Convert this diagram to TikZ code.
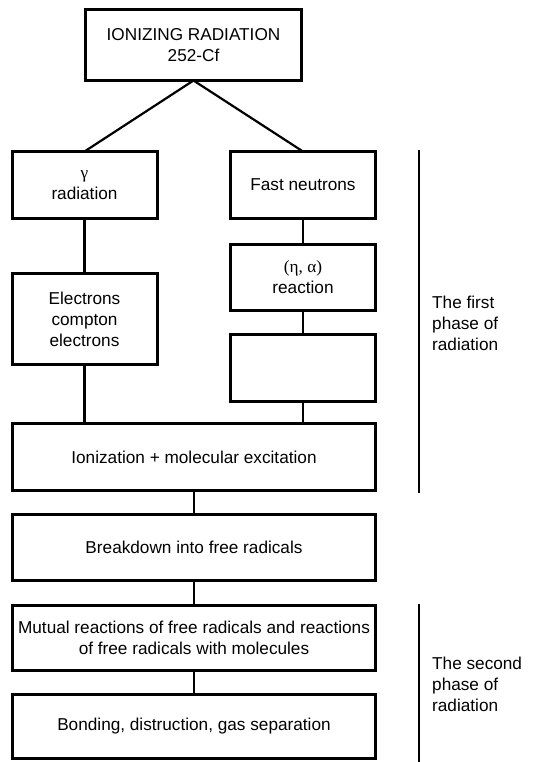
\documentclass[tikz,border=0pt]{standalone}
\usepackage{fontspec}
\setmainfont{Liberation Sans}
\newfontfamily\grk{Liberation Serif}
\usetikzlibrary{positioning, calc}

\begin{document}
\begin{tikzpicture}[
  x=1pt, y=-1pt,
  every node/.style={font=\fontsize{17.2}{21}\selectfont, align=center},
  box/.style={draw, line width=3pt, inner sep=2pt, outer sep=0pt,
              minimum width=145pt, minimum height=#1},
  box/.default=67pt,
  widebox/.style={box=#1, minimum width=363pt},
  widebox/.default=66pt,
  wire/.style={line width=2.6pt},
  slant/.style={line width=2.2pt},
  phase/.style={line width=2.2pt},
  note/.style={anchor=west, align=left, inner sep=0pt}
]
\useasboundingbox (0,0) rectangle (559,762);

% source
\node[box=71pt, minimum width=216pt] (src) at (193.5,45)
  {IONIZING RADIATION\\252-Cf};

% left branch
\node[box] (gam) at (84.5,185) {{\grk γ}\\radiation};
\node[box=91pt] (elec) at (84.5,319) {Electrons\\compton\\electrons};

% right branch
\node[box] (fast) at (303,185) {Fast neutrons};
\node[box=66pt] (na) at (303,277.5) {{\grk (η, α)}\\reaction};
\node[box] (blank) at (303,368) {};

% common chain
\node[widebox=67pt] (ion)   at (194,457)   {Ionization + molecular excitation};
\node[widebox]      (brk)   at (194,547.5) {Breakdown into free radicals};
\node[widebox=65pt] (mut)   at (194,638)
  {Mutual reactions of free radicals and reactions\\of free radicals with molecules};
\node[widebox=64pt] (bond)  at (194,726.5) {Bonding, distruction, gas separation};

% wires
\draw[slant] (src.south) -- (gam.north);
\draw[slant] (src.south) -- (fast.north);
\draw[wire] (gam) -- (elec);
\draw[wire] (elec.south) -- (elec.south |- ion.north);
\foreach \a/\b in {fast/na, na/blank, ion/brk, brk/mut, mut/bond} {
  \draw[wire] (\a.south) -- (\b.north);
}
\draw[wire] (blank.south) -- (blank.south |- ion.north);

% phases
\coordinate (ph1a) at (419,150);
\coordinate (ph1b) at (419,493);
\coordinate (ph2a) at (419,604);
\coordinate (ph2b) at (419,762);
\draw[phase] (ph1a) -- (ph1b);
\draw[phase] (ph2a) -- (ph2b);
\node[note] (ph1) at (432,323) {The first\\phase of\\radiation};
\node[note] (ph2) at (432,684) {The second\\phase of\\radiation};
\end{tikzpicture}
\end{document}
